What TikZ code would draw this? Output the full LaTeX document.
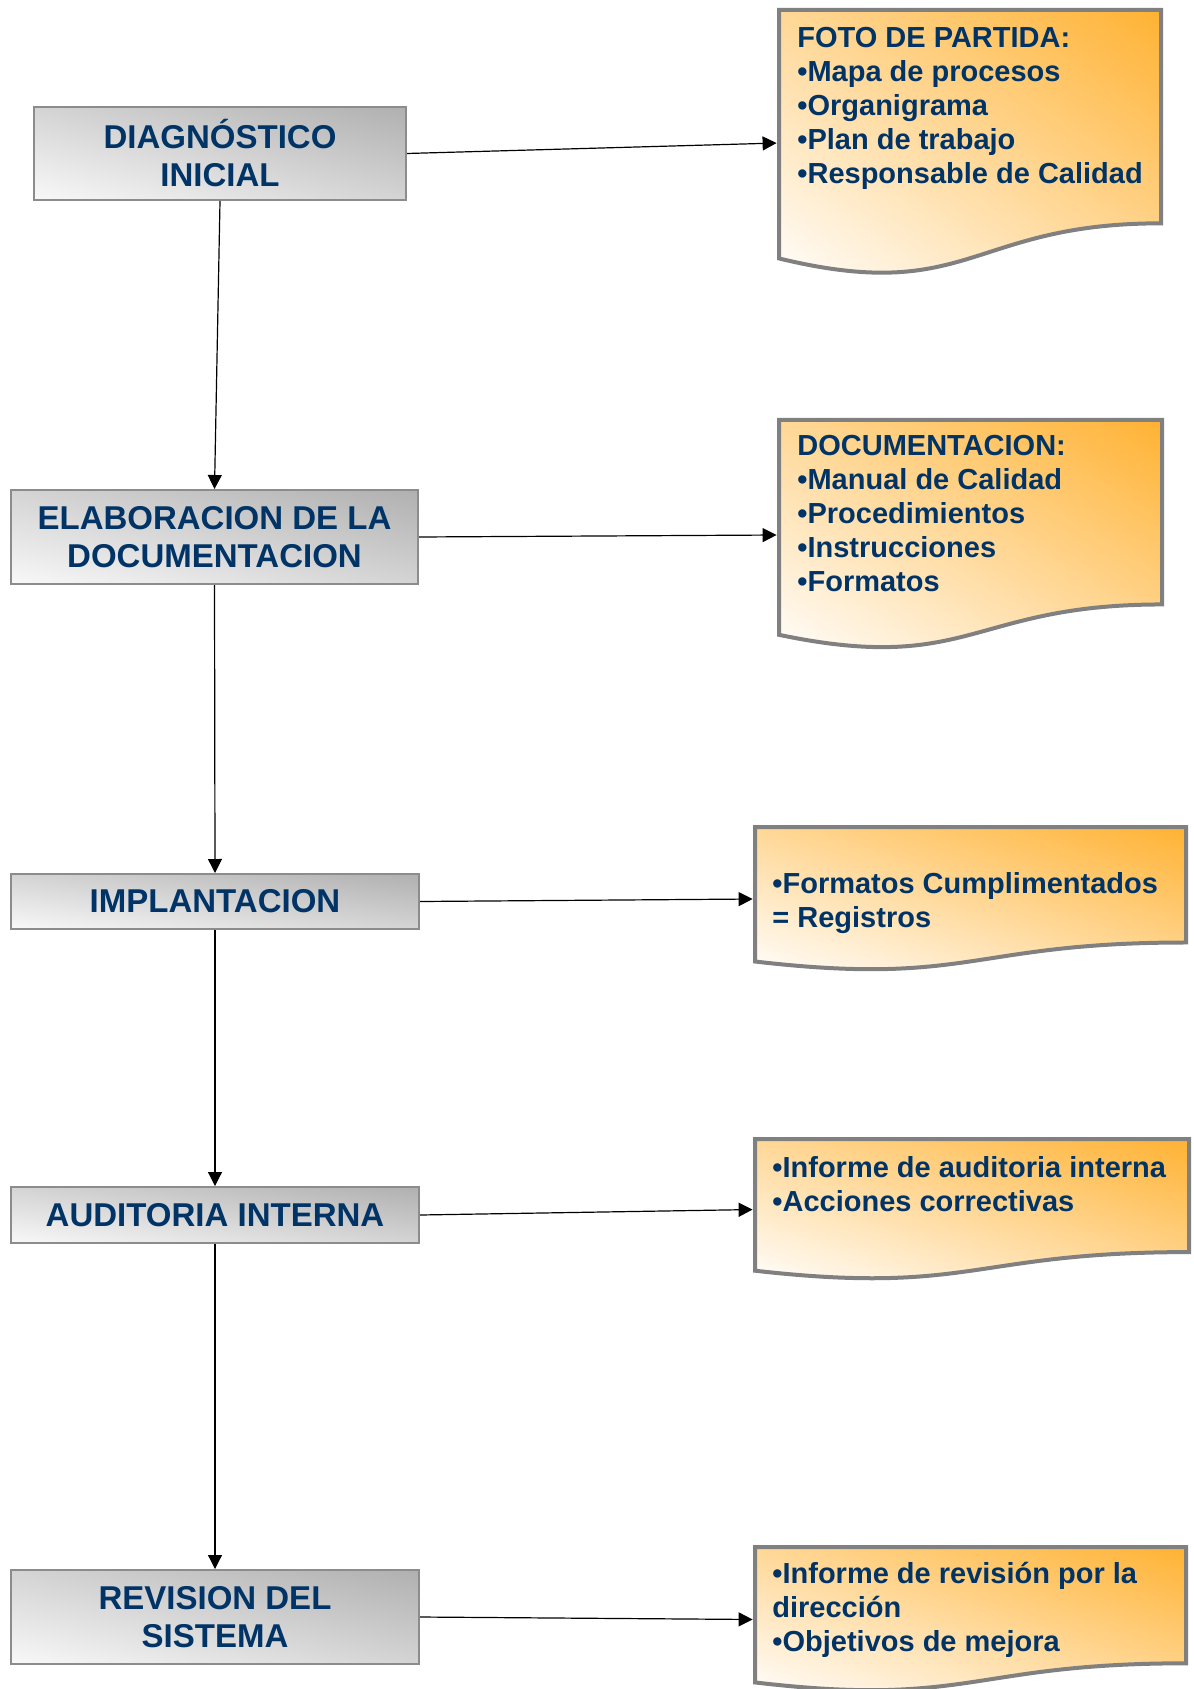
\documentclass[tikz,border=0pt]{standalone}
\usepackage{fontspec}
\setmainfont{Liberation Sans}
\usetikzlibrary{arrows.meta,fit}

\definecolor{txtblue}{HTML}{003366}
\definecolor{stageline}{HTML}{8C8C8C}
\definecolor{stagedark}{HTML}{B0B0B0}
\definecolor{stagelight}{HTML}{F8F8F8}
\definecolor{docline}{HTML}{808080}
\definecolor{docorange}{HTML}{FFB233}
\definecolor{doclight}{HTML}{FFFDFA}

% corner-to-corner gradient (dark at top right, light at bottom left)
% for a box given by centre x, centre y, width, height; clip it beforehand
\newcommand\gradfill[6]{%
  \pgfmathsetmacro\gang{-atan2(#4,#3)}%
  \pgfmathsetmacro\gdiag{veclen(#3,#4)}%
  \pgfmathsetmacro\gramp{2*#3*(#4/\gdiag)}%
  \shade[transform canvas={rotate around={\gang:({#1},{#2})}}, top color=#5, bottom color=#6]
    ({#1-0.5*\gdiag-4},{#2-0.5*\gramp}) rectangle ({#1+0.5*\gdiag+4},{#2+0.5*\gramp});
}

% background of a stage box: centre x, centre y, width, height
\newcommand\stagebg[4]{%
  \begin{scope}
    \clip ({#1-0.5*#3},{#2-0.5*#4}) rectangle ({#1+0.5*#3},{#2+0.5*#4});
    \gradfill{#1}{#2}{#3}{#4}{stagedark}{stagelight}
  \end{scope}}

% document shape: name, left x, top y, width, height
\newcommand\docbox[5]{%
  \begin{scope}
    \clip (#2,#3) -- ({#2+#4},#3) -- ({#2+#4},{#3+0.802*#5})
      .. controls ({#2+0.5*#4},{#3+0.802*#5}) and ({#2+0.5*#4},{#3+1.108*#5})
      .. (#2,{#3+0.934*#5}) -- cycle;
    \gradfill{#2+0.5*#4}{#3+0.5*#5}{#4}{#5}{docorange}{doclight}
  \end{scope}
  \draw[docshape] (#2,#3) -- ({#2+#4},#3) -- ({#2+#4},{#3+0.802*#5})
    .. controls ({#2+0.5*#4},{#3+0.802*#5}) and ({#2+0.5*#4},{#3+1.108*#5})
    .. (#2,{#3+0.934*#5}) -- cycle;
  \coordinate (#1-nw) at (#2,#3);
  \coordinate (#1-se) at ({#2+#4},{#3+#5});
  \node[fit=(#1-nw)(#1-se), inner sep=0pt] (#1) {};
}

\begin{document}
\begin{tikzpicture}[x=0.5pt,y=-0.5pt,
  stage/.style={draw=stageline, line width=1pt,
    font=\bfseries\fontsize{16.5}{19}\selectfont, text=txtblue,
    align=center, inner sep=0pt},
  docshape/.style={draw=docline, line width=2pt, line join=miter},
  doctext/.style={font=\bfseries\fontsize{14.5}{17}\selectfont, text=txtblue,
    align=left, anchor=base west, inner sep=0pt},
  conn/.style={-{Triangle[length=7pt,width=7pt]}, line width=0.6pt, black}]

\useasboundingbox (0,0) rectangle (1193,1689);

% process stages
\stagebg{220}{153.5}{372}{93}
\node[stage, minimum width=186pt, minimum height=46.5pt] (diag) at (220,153.5) {DIAGNÓSTICO\\INICIAL};
\stagebg{214.5}{537}{407}{94}
\node[stage, minimum width=203.5pt, minimum height=47pt] (elab) at (214.5,537) {ELABORACION DE LA\\DOCUMENTACION};
\stagebg{215}{901.5}{408}{55}
\node[stage, minimum width=204pt, minimum height=27.5pt] (impl) at (215,901.5) {IMPLANTACION};
\stagebg{215}{1215}{408}{56}
\node[stage, minimum width=204pt, minimum height=28pt] (aud) at (215,1215) {AUDITORIA INTERNA};
\stagebg{215}{1617}{408}{94}
\node[stage, minimum width=204pt, minimum height=47pt] (rev) at (215,1617) {REVISION DEL\\SISTEMA};

% outputs of each stage
\docbox{foto}{779}{10}{382}{266}
\docbox{docu}{779}{420}{383}{230}
\docbox{regs}{755}{827}{431}{144}
\docbox{infa}{755}{1139}{434}{141}
\docbox{infr}{755}{1547}{431}{145}

% text blocks, placed by the baseline of their last line
\node[doctext] (foto-t) at (797,184) {FOTO DE PARTIDA:\\•Mapa de procesos\\•Organigrama\\•Plan de trabajo\\•Responsable de Calidad};
\node[doctext] (docu-t) at (797,591) {DOCUMENTACION:\\•Manual de Calidad\\•Procedimientos\\•Instrucciones\\•Formatos};
\node[doctext] (regs-t) at (772,927) {•Formatos Cumplimentados\\= Registros};
\node[doctext] (infa-t) at (772,1211) {•Informe de auditoria interna\\•Acciones correctivas};
\node[doctext] (infr-t) at (772,1651) {•Informe de revisión por la\\dirección\\•Objetivos de mejora};

% flow between stages
\draw[conn] (diag.south) -- (elab.north);
\draw[conn] (elab.south) -- (impl.north);
\draw[conn] (impl.south) -- (aud.north);
\draw[conn] (aud.south) -- (rev.north);

% stage to output
\draw[conn, shorten >=1pt] (diag.east) -- (foto.west);
\draw[conn, shorten >=1pt] (elab.east) -- (docu.west);
\draw[conn, shorten >=1pt] (impl.east) -- (regs.west);
\draw[conn, shorten >=1pt] (aud.east) -- (infa.west);
\draw[conn, shorten >=1pt] (rev.east) -- (infr.west);
\end{tikzpicture}
\end{document}
